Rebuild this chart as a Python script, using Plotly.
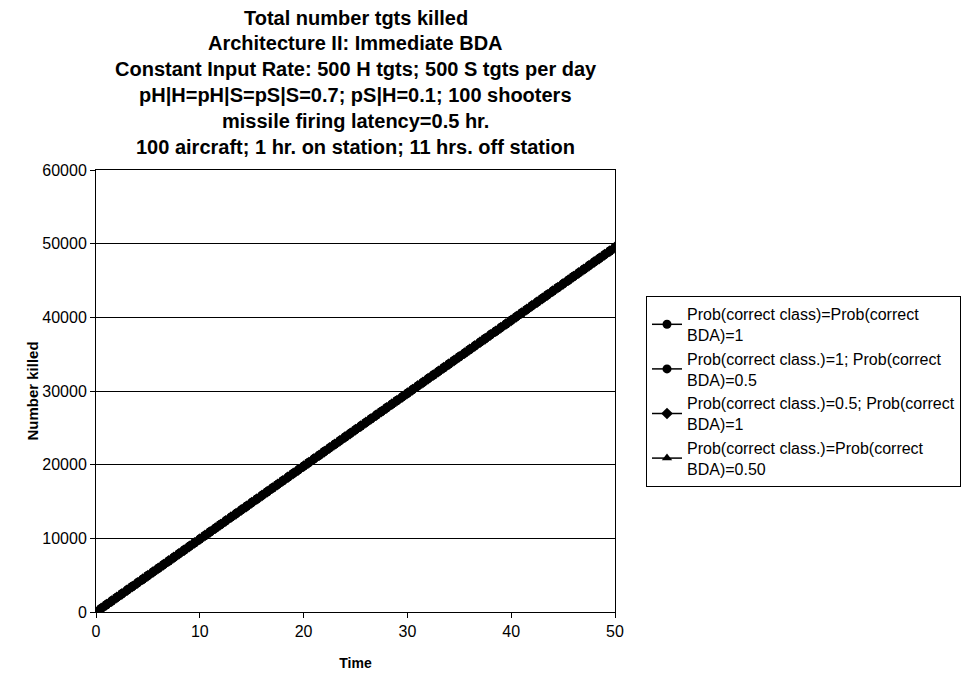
import plotly.graph_objects as go

# ---- data ----
time_hr = [0, 0.5, 1, 1.5, 2, 2.5, 3, 3.5, 4, 4.5, 5, 5.5, 6, 6.5, 7, 7.5, 8, 8.5, 9, 9.5,
           10, 10.5, 11, 11.5, 12, 12.5, 13, 13.5, 14, 14.5, 15, 15.5, 16, 16.5, 17, 17.5, 18, 18.5, 19, 19.5,
           20, 20.5, 21, 21.5, 22, 22.5, 23, 23.5, 24, 24.5, 25, 25.5, 26, 26.5, 27, 27.5, 28, 28.5, 29, 29.5,
           30, 30.5, 31, 31.5, 32, 32.5, 33, 33.5, 34, 34.5, 35, 35.5, 36, 36.5, 37, 37.5, 38, 38.5, 39, 39.5,
           40, 40.5, 41, 41.5, 42, 42.5, 43, 43.5, 44, 44.5, 45, 45.5, 46, 46.5, 47, 47.5, 48, 48.5, 49, 49.5, 50]

killed_all_1 = [0, 490, 990, 1480, 1980, 2470, 2970, 3460, 3960, 4450, 4950, 5440, 5940, 6430, 6930, 7420,
                7920, 8410, 8910, 9400, 9900, 10390, 10890, 11380, 11880, 12370, 12870, 13360, 13860, 14350,
                14850, 15340, 15840, 16330, 16830, 17320, 17820, 18310, 18810, 19300, 19800, 20290, 20790,
                21280, 21780, 22270, 22770, 23260, 23760, 24250, 24750, 25240, 25740, 26230, 26730, 27220,
                27720, 28210, 28710, 29200, 29700, 30190, 30690, 31180, 31680, 32170, 32670, 33160, 33660,
                34150, 34650, 35140, 35640, 36130, 36630, 37120, 37620, 38110, 38610, 39100, 39600, 40090,
                40590, 41080, 41580, 42070, 42570, 43060, 43560, 44050, 44550, 45040, 45540, 46030, 46530,
                47020, 47520, 48010, 48510, 49000, 49500]
# the other three curves sit exactly on top of the first one in the picture
killed_class1_bda05 = killed_all_1
killed_class05_bda1 = killed_all_1
killed_all_05 = killed_all_1

series_names = [
    "Prob(correct class)=Prob(correct<br>BDA)=1",
    "Prob(correct class.)=1; Prob(correct<br>BDA)=0.5",
    "Prob(correct class.)=0.5; Prob(correct<br>BDA)=1",
    "Prob(correct class.)=Prob(correct<br>BDA)=0.50",
]
series_values = [killed_all_1, killed_class1_bda05, killed_class05_bda1, killed_all_05]
series_symbols = ["circle", "circle", "diamond", "triangle-up"]
series_sizes = [9, 9, 9, 9]

x_ticks = [0, 10, 20, 30, 40, 50]
y_ticks = [0, 10000, 20000, 30000, 40000, 50000, 60000]

title_lines = [
    "Total number tgts killed",
    "Architecture II: Immediate BDA",
    "Constant Input Rate: 500 H tgts; 500 S tgts per day",
    "pH|H=pH|S=pS|S=0.7; pS|H=0.1; 100 shooters",
    "missile firing latency=0.5 hr.",
    "100 aircraft; 1 hr. on station; 11 hrs. off station",
]

FONT = "Liberation Sans, Arial, sans-serif"

# page has an 8px body margin; work in page pixels and convert
OFF = 8
W, H = 973 - OFF, 676 - OFF
L, R, T, B = 96 - OFF, 615 - OFF, 170 - OFF, 612 - OFF
pw, ph = R - L, B - T

fig = go.Figure()
for i, (name, vals, sym, sz) in enumerate(zip(series_names, series_values, series_symbols, series_sizes)):
    fig.add_trace(go.Scatter(
        x=time_hr, y=vals, name=name, mode="lines+markers",
        line=dict(color="black", width=1.5),
        marker=dict(symbol=sym, size=sz, color="black"),
        legendgroup=f"g{i}",
    ))

title_y_page = [18, 43, 69, 95, 121, 147]
for txt, ypg in zip(title_lines, title_y_page):
    ypx = ypg - OFF
    fig.add_annotation(
        text=f"<b>{txt}</b>", xref="paper", yref="paper",
        x=0.5, y=(B - ypx) / ph, xanchor="center", yanchor="middle",
        showarrow=False, font=dict(family=FONT, size=20, color="black"),
    )

fig.update_layout(
    width=W, height=H,
    margin=dict(l=L, r=W - R, t=T, b=H - B, autoexpand=False),
    paper_bgcolor="white", plot_bgcolor="white",
    font=dict(family=FONT, size=16, color="black"),
    showlegend=True,
    legend=dict(
        x=(646 - OFF - L) / pw, y=(B - (296 - OFF)) / ph, xanchor="left", yanchor="top",
        bordercolor="black", borderwidth=1, bgcolor="white",
        font=dict(family=FONT, size=16, color="black"),
        tracegroupgap=0, itemwidth=30,
    ),
    xaxis=dict(
        range=[0, 50], tickvals=x_ticks,
        showgrid=False, zeroline=False,
        showline=True, linecolor="black", linewidth=1, mirror=True,
        ticks="outside", ticklen=5, tickcolor="black",
        tickfont=dict(family=FONT, size=16, color="black"),
        title=dict(text="<b>Time</b>", font=dict(family=FONT, size=14, color="black"), standoff=18),
    ),
    yaxis=dict(
        range=[0, 60000], tickvals=y_ticks,
        ticktext=[str(v) for v in y_ticks],
        showgrid=True, gridcolor="black", gridwidth=1, zeroline=False,
        showline=True, linecolor="black", linewidth=1, mirror=True,
        ticks="outside", ticklen=5, tickcolor="black",
        tickfont=dict(family=FONT, size=16, color="black"),
        title=dict(text="<b>Number killed</b>", font=dict(family=FONT, size=15, color="black"), standoff=0),
    ),
)

fig.write_html("out.html")
